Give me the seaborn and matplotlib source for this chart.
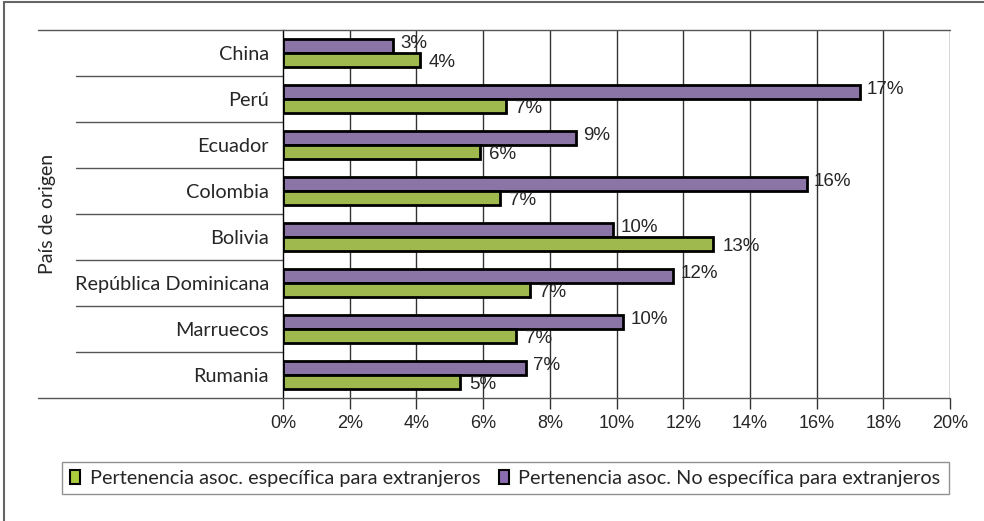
import numpy as np
import pandas as pd
import seaborn as sns
import matplotlib.pyplot as plt
from matplotlib.patches import Patch
from matplotlib.lines import Line2D
import matplotlib.transforms as mtransforms

# datos (% de pertenencia a asociaciones)
paises = ['China', 'Perú', 'Ecuador', 'Colombia', 'Bolivia',
          'República Dominicana', 'Marruecos', 'Rumania']
no_especifica = [3.3, 17.3, 8.8, 15.7, 9.9, 11.7, 10.2, 7.3]
especifica = [4.1, 6.7, 5.9, 6.5, 12.9, 7.4, 7.0, 5.3]
serie_esp = 'Pertenencia asoc. específica para extranjeros'
serie_no = 'Pertenencia asoc. No específica para extranjeros'
ticks_x = [0, 2, 4, 6, 8, 10, 12, 14, 16, 18, 20]

df = pd.DataFrame({
    'pais': paises * 2,
    'valor': no_especifica + especifica,
    'serie': [serie_no] * len(paises) + [serie_esp] * len(paises),
})

sns.set_style('white')
plt.rcParams['font.family'] = ['Liberation Sans', 'DejaVu Sans']

morado = '#8A6DAE'
verde = '#AACB3C'
fuente_gill = ['Lato', 'DejaVu Sans']

fig = plt.figure(figsize=(9.84, 5.21), dpi=100)
ax = fig.add_axes([283 / 984, 1 - 398 / 521, 667 / 984, 368 / 521])

sns.barplot(data=df, x='valor', y='pais', hue='serie', order=paises,
            hue_order=[serie_no, serie_esp], palette=[morado, verde],
            orient='h', width=0.59, gap=0, edgecolor='black', linewidth=2,
            legend=False, ax=ax)

ax.set_xlim(0, 20)
ax.set_ylim(7.5, -0.5)
ax.set_xticks(ticks_x)
ax.set_xticklabels([f'{t}%' for t in ticks_x], fontsize=13)
ax.tick_params(axis='x', length=8, width=1, color='#333333', pad=4, bottom=True)
ax.tick_params(axis='y', length=0, pad=10)
for lab in ax.get_yticklabels():
    lab.set_fontfamily(fuente_gill)
    lab.set_fontsize(14.3)
ax.set_xlabel('')
ax.set_ylabel('País de origen', fontsize=14, family=fuente_gill)
ax.yaxis.set_label_coords(-0.34, 0.5)

# rejilla vertical
for t in ticks_x[1:]:
    ax.axvline(t, color='#333333', lw=1, zorder=0)
ax.set_axisbelow(True)

for s in ['top', 'right', 'bottom']:
    ax.spines[s].set_visible(False)
ax.spines['left'].set_color('black')
ax.spines['left'].set_linewidth(1)

# separadores de categorias
trans = mtransforms.blended_transform_factory(ax.transAxes, ax.transData)
for i in range(len(paises) + 1):
    yb = i - 0.5
    if i == 0 or i == len(paises):
        ax.plot([-0.3673, 1.0], [yb, yb], transform=trans, color='#555555',
                lw=1, clip_on=False, zorder=5)
    else:
        ax.plot([-0.3103, 0.0], [yb, yb], transform=trans, color='#555555',
                lw=1, clip_on=False)

# etiquetas de datos
offsets = [(7, 3), (9, -3)]
vals = [no_especifica, especifica]
for cont, (dx, dy), vv in zip(ax.containers, offsets, vals):
    for bar, v in zip(cont, vv):
        ax.annotate(f'{int(v + 0.5)}%',
                    xy=(bar.get_width(), bar.get_y() + bar.get_height() / 2),
                    xytext=(dx, dy), textcoords='offset pixels',
                    ha='left', va='center', fontsize=13.5)

# leyenda
handles = [Patch(facecolor=verde, edgecolor='black', lw=1.5, label=serie_esp),
           Patch(facecolor=morado, edgecolor='black', lw=1.5, label=serie_no)]
leg = fig.legend(handles=handles, loc='center', bbox_to_anchor=(0.5137, 0.0825),
                 ncol=2, frameon=True, fancybox=False,
                 handlelength=0.5, handleheight=0.7, handletextpad=0.5,
                 columnspacing=0.9, borderpad=0.4,
                 prop={'family': fuente_gill, 'size': 14.3})
leg.get_frame().set_edgecolor('#777777')
leg.get_frame().set_linewidth(1)

# marco exterior
fig.add_artist(Line2D([4 / 984, 1], [1 - 2 / 521, 1 - 2 / 521], color='#666666', lw=1.5))
fig.add_artist(Line2D([4 / 984, 4 / 984], [0, 1 - 2 / 521], color='#666666', lw=1.5))

fig.savefig('out.png', dpi=100)
